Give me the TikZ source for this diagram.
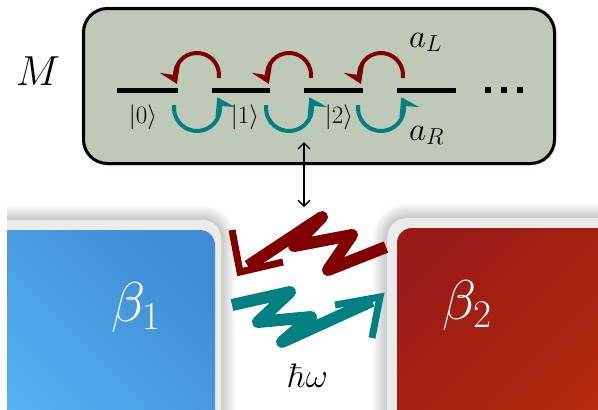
\RequirePackage{fix-cm}
\documentclass[tikz,border=0pt]{standalone}
\usetikzlibrary{arrows.meta,shadows.blur,calc}
\definecolor{boxfill}{RGB}{191,201,184}
\definecolor{darkred}{RGB}{128,0,0}
\definecolor{tealc}{RGB}{0,128,128}
\definecolor{framec}{RGB}{235,235,235}
\definecolor{blueTR}{RGB}{64,140,212}
\definecolor{blueBL}{RGB}{88,180,242}
\definecolor{redTL}{RGB}{154,26,22}
\definecolor{redBR}{RGB}{182,44,12}
\tikzset{
  mbox/.style={draw=black, line width=3pt, fill=boxfill, rounded corners=24pt,
    minimum width=471pt, minimum height=155pt,
    blur shadow={shadow xshift=0pt, shadow yshift=0pt, shadow blur radius=3pt, shadow opacity=45}},
  levelline/.style={line width=5pt, black},
  hopL/.style={darkred, line width=4pt, -{Stealth[length=17pt,width=22pt,inset=7pt]}},
  hopR/.style={tealc, line width=4pt, -{Stealth[length=17pt,width=22pt,inset=7pt]}},
  ketlabel/.style={font=\fontsize{25}{29}\selectfont, inner sep=0pt},
  oplabel/.style={font=\fontsize{33}{38}\selectfont, inner sep=0pt, anchor=base west},
  bigm/.style={font=\fontsize{42}{48}\selectfont, inner sep=0pt, anchor=base},
  betalabel/.style={font=\fontsize{56}{64}\selectfont, text=white, inner sep=0pt},
  hwlabel/.style={font=\fontsize{34}{40}\selectfont, inner sep=0pt, anchor=base},
  frameshape/.style={fill=framec,
    blur shadow={shadow xshift=0pt, shadow yshift=0pt, shadow blur radius=15pt, shadow blur steps=16, shadow opacity=45}},
  wiggle/.style={line width=12pt, line join=round, line cap=butt},
  barb/.style={line width=7pt, line join=miter, miter limit=6, line cap=butt},
  couple/.style={line width=1.3pt, {Straight Barb[length=6pt,width=12pt]}-{Straight Barb[length=6pt,width=12pt]}}
}
\begin{document}
\begin{tikzpicture}[x=1pt,y=-1pt]
\useasboundingbox (0,0) rectangle (598,410);
\clip (0,0) rectangle (598,410);

% bottom: reservoirs
\begin{scope}
  \clip (7,0) rectangle (598,410);
  \path[frameshape, rounded corners=18pt] (-40,220) rectangle (221,450);
  \path[frameshape, rounded corners=20pt] (387,218) rectangle (650,450);
  \path[rounded corners=15pt, top color=blueTR, bottom color=blueBL, shading angle=-45] (-40,230) rectangle (215,450);
  \path[rounded corners=15pt, top color=redTL, bottom color=redBR, shading angle=45] (397,228) rectangle (650,450);
\end{scope}
\node[betalabel] (b1) at (136,307) {$\beta_1$};
\node[betalabel] (b2) at (467,305) {$\beta_2$};

% system box
\node[mbox] (box) at (319,86) {};
\node[bigm] (m) at (38,85) {$M$};

\foreach \a/\b in {117/178,212/270,304/363,397/456}
  \draw[levelline] (\a,90) -- (\b,90);
\foreach \xx in {488,504,520}
  \fill (\xx-2.6,87.4) rectangle +(5.2,5.2);

\node[ketlabel] (k0) at (143,117) {$|0\rangle$};
\node[ketlabel] (k1) at (245,117) {$|1\rangle$};
\node[ketlabel] (k2) at (339,117) {$|2\rangle$};

\foreach \k in {0,1,2}{
  \pgfmathsetmacro{\cx}{197+92*\k}
  \draw[hopL, shift={(\cx,75)}] (8:22) arc[start angle=8, end angle=-204, radius=22];
  \draw[hopR, shift={(\cx,108)}] (187:23) arc[start angle=187, end angle=-28, radius=23];
}

\node[oplabel] (aL) at (409,47) {$a_L$};
\node[oplabel] (aR) at (409,140) {$a_R$};

% coupling arrow
\coordinate (ctop) at (304,142);
\coordinate (cbot) at (304,207);
\draw[couple] (ctop) -- (cbot);

% photon exchanges
\coordinate (rtail) at (386,247);
\coordinate (rtip) at (240,272);
\draw[wiggle, darkred] (rtail) -- (328,270) -- (352,235) -- (294,246) -- (322,217) -- (248,266);
\draw[barb, darkred] (232,230) -- (rtip) -- (283,262);

\coordinate (ttail) at (232,305);
\coordinate (ttip) at (380,297);
\draw[wiggle, tealc] (ttail) -- (290,292) -- (258,322) -- (311,317) -- (282,342) -- (372,301);
\draw[barb, tealc] (335,305) -- (ttip) -- (372,338);

\node[hwlabel] (hw) at (308,387) {$\hbar\omega$};
\end{tikzpicture}
\end{document}
